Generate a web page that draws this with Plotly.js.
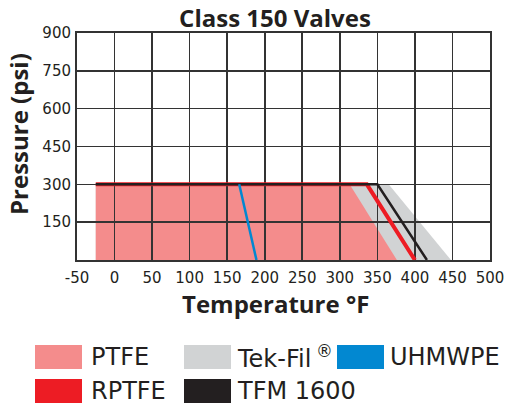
<!DOCTYPE html>
<html>
<head>
<meta charset="utf-8">
<script src="https://cdn.plot.ly/plotly-3.0.1.min.js"></script>
<style>html,body{margin:0;padding:0;background:#fff;}#chart{width:510px;height:407px;}</style>
</head>
<body>
<div id="chart"></div>
<script>
// ---- data ----
const ptfeTemp  = [-25, -25, 313, 376];
const ptfePsi   = [0, 300, 300, 0];
const tekTemp   = [-25, -25, 365, 448];
const tekPsi    = [0, 300, 300, 0];
const rptfeTemp = [-25, 336, 400];
const rptfePsi  = [300, 300, 0];
const tfmTemp   = [-25, 350, 416];
const tfmPsi    = [300, 300, 0];
const uhmTemp   = [166, 189];
const uhmPsi    = [300, 0];

const xTicks = [-50, 0, 50, 100, 150, 200, 250, 300, 350, 400, 450, 500];
const yTicks = [150, 300, 450, 600, 750, 900];

const legendNames  = ['PTFE', 'Tek-Fil\u2009<sup>®</sup>', 'UHMWPE', 'RPTFE', 'TFM 1600'];
const legendColors = ['#F48C8C', '#D1D3D4', '#0288D1', '#ED1C24', '#231F20'];

// ---- layout geometry ----
const W = 510, H = 407;
const L = 77, R = 20, T = 33, B = 147;
const PW = W - L - R, PH = H - T - B;
const px2x = p => (p - L) / PW;
const py2y = p => (H - B - p) / PH;

const traces = [
  {x: tekTemp, y: tekPsi, xaxis: 'x', yaxis: 'y', mode: 'lines', fill: 'toself',
   fillcolor: legendColors[1], line: {width: 0, color: legendColors[1]}, name: 'Tek-Fil', showlegend: false, hoverinfo: 'skip'},
  {x: ptfeTemp, y: ptfePsi, xaxis: 'x', yaxis: 'y', mode: 'lines', fill: 'toself',
   fillcolor: legendColors[0], line: {width: 0, color: legendColors[0]}, name: 'PTFE', showlegend: false, hoverinfo: 'skip'},
  {x: rptfeTemp, y: rptfePsi, xaxis: 'x2', yaxis: 'y2', mode: 'lines',
   line: {width: 4, color: legendColors[3]}, name: 'RPTFE', showlegend: false},
  {x: tfmTemp, y: tfmPsi, xaxis: 'x2', yaxis: 'y2', mode: 'lines',
   line: {width: 2.5, color: legendColors[4]}, name: 'TFM 1600', showlegend: false},
  {x: uhmTemp, y: uhmPsi, xaxis: 'x2', yaxis: 'y2', mode: 'lines',
   line: {width: 2.5, color: legendColors[2]}, name: 'UHMWPE', showlegend: false}
];

const boldFont = {family: '"Open Sans", sans-serif', size: 24, color: '#231F20', weight: 700};
const regFont  = {family: '"DejaVu Sans", sans-serif', size: 15, color: '#231F20'};

// legend swatches and labels
const legX = [35, 184, 337, 35, 184];
const legTextX = [90, 236, 389, 90, 236];
const legRowTop = [345, 345, 345, 379, 379];
const shapes = [];
const annotations = [];
legendNames.forEach((n, i) => {
  shapes.push({type: 'rect', xref: 'paper', yref: 'paper',
    x0: px2x(legX[i]), x1: px2x(legX[i] + 47),
    y0: py2y(legRowTop[i]), y1: py2y(legRowTop[i] + 24),
    fillcolor: legendColors[i], line: {width: 0}});
  annotations.push({xref: 'paper', yref: 'paper', x: px2x(legTextX[i]), y: py2y(legRowTop[i] + 12),
    xanchor: 'left', yanchor: 'middle', showarrow: false, borderpad: 0,
    text: n, font: {family: '"DejaVu Sans", sans-serif', size: 24, color: '#231F20'}});
});
// axis titles
annotations.push({xref: 'paper', yref: 'paper', x: px2x(275), y: py2y(303), xanchor: 'center', yanchor: 'middle',
  showarrow: false, borderpad: 0, text: 'Temperature °F', font: boldFont});
annotations.push({xref: 'paper', yref: 'paper', x: px2x(18), y: py2y(134), xanchor: 'center', yanchor: 'middle',
  showarrow: false, borderpad: 0, textangle: -90, text: 'Pressure (psi)', font: boldFont});

const hidden = {visible: false, fixedrange: true};
const layout = {
  width: W, height: H,
  margin: {l: L, r: R, t: T, b: B, pad: 0},
  paper_bgcolor: '#ffffff', plot_bgcolor: 'rgba(0,0,0,0)',
  showlegend: false,
  title: {text: 'Class 150 Valves', font: boldFont, xref: 'container', x: 275 / W, xanchor: 'center',
          yref: 'container', y: 1 - 19 / H, yanchor: 'middle'},
  xaxis: Object.assign({range: [-50, 500], domain: [0, 1], anchor: 'y'}, hidden),
  yaxis: Object.assign({range: [0, 900], domain: [0, 1], anchor: 'x'}, hidden),
  xaxis2: {range: [-50, 500], domain: [0, 1], anchor: 'y2', tickmode: 'array', tickvals: xTicks,
           ticktext: xTicks.map(String), ticks: '', ticklabelstandoff: 3, showgrid: true, gridcolor: '#333', gridwidth: 1.6,
           showline: true, mirror: true, linecolor: '#333', linewidth: 2, zeroline: false,
           tickfont: regFont, fixedrange: true},
  yaxis2: {range: [0, 900], domain: [0, 1], anchor: 'x2', tickmode: 'array', tickvals: yTicks,
           ticktext: yTicks.map(String), ticks: '', ticklabelstandoff: 1, showgrid: true, gridcolor: '#333', gridwidth: 1.6,
           showline: true, mirror: true, linecolor: '#333', linewidth: 2, zeroline: false,
           tickfont: regFont, fixedrange: true},
  shapes: shapes,
  annotations: annotations
};

Plotly.newPlot('chart', traces, layout, {staticPlot: true, displayModeBar: false});
</script>
</body>
</html>
